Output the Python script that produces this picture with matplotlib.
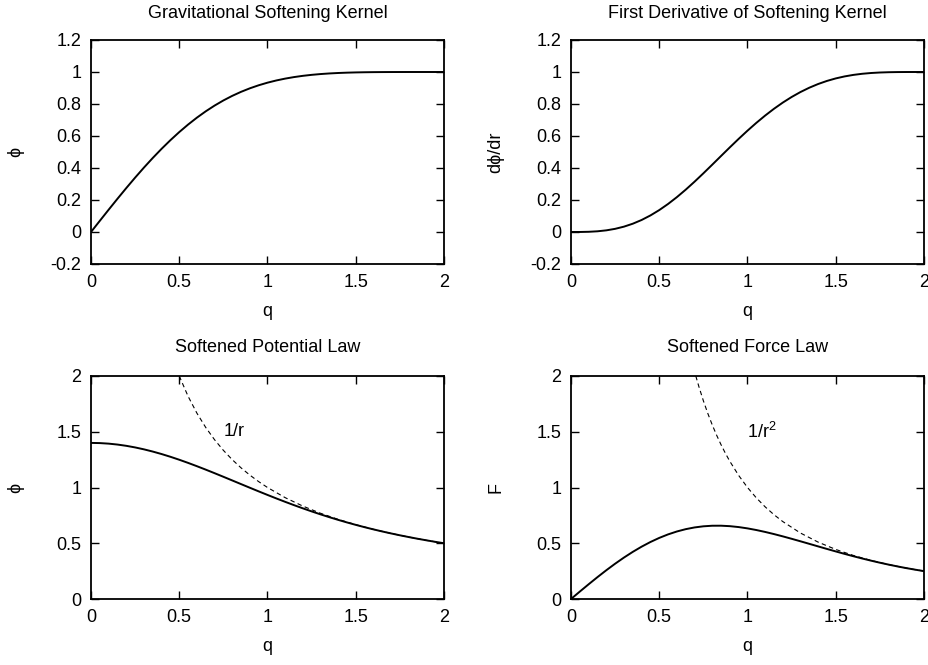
import matplotlib
matplotlib.use("Agg")
import matplotlib.pyplot as plt

plt.rcParams['font.family'] = ['Liberation Sans', 'DejaVu Sans']
plt.rcParams['mathtext.default'] = 'regular'

# ---- data ----
q = [0.00, 0.05, 0.10, 0.15, 0.20, 0.25, 0.30, 0.35, 0.40, 0.45,
     0.50, 0.55, 0.60, 0.65, 0.70, 0.75, 0.80, 0.85, 0.90, 0.95,
     1.00, 1.05, 1.10, 1.15, 1.20, 1.25, 1.30, 1.35, 1.40, 1.45,
     1.50, 1.55, 1.60, 1.65, 1.70, 1.75, 1.80, 1.85, 1.90, 1.95, 2.00]

kernel_phi = [0.0, 0.069917, 0.139336, 0.207772, 0.274756, 0.339852, 0.402656,
              0.462809, 0.519996, 0.573956, 0.624479, 0.671414, 0.714662,
              0.754183, 0.789989, 0.822143, 0.850756, 0.875980, 0.898003,
              0.917042, 0.933333, 0.947125, 0.958666, 0.968201, 0.975970,
              0.982202, 0.987115, 0.990911, 0.993779, 0.995890, 0.997396,
              0.998432, 0.999112, 0.999536, 0.999781, 0.999911, 0.999970,
              0.999993, 0.999999, 1.0, 1.0]

kernel_dphi = [0.0, 0.000167, 0.001322, 0.004415, 0.010315, 0.019784, 0.033449,
               0.051783, 0.075093, 0.103509, 0.136979, 0.175280, 0.218016,
               0.264641, 0.314474, 0.366724, 0.420523, 0.474962, 0.529133,
               0.582176, 0.633333, 0.682003, 0.727718, 0.770100, 0.808853,
               0.843774, 0.874748, 0.901747, 0.924832, 0.944143, 0.959896,
               0.972372, 0.981909, 0.988889, 0.993722, 0.996834, 0.998645,
               0.999553, 0.999908, 0.999994, 1.0]

potential = [1.4, 1.398335, 1.393363, 1.385144, 1.373781, 1.359408, 1.342187,
             1.322310, 1.299989, 1.275457, 1.248958, 1.220752, 1.191104,
             1.160282, 1.128556, 1.096191, 1.063445, 1.030565, 0.997781,
             0.965307, 0.933333, 0.902024, 0.871514, 0.841914, 0.813308,
             0.785762, 0.759319, 0.734008, 0.709842, 0.686821, 0.664931,
             0.644149, 0.624445, 0.605779, 0.588107, 0.571378, 0.555539,
             0.540537, 0.526315, 0.512821, 0.5]

force = [0.0, 0.066654, 0.13218, 0.19620, 0.25787, 0.31654, 0.37165, 0.42272,
         0.46933, 0.51115, 0.54792, 0.57944, 0.60560, 0.62637, 0.64178,
         0.65195, 0.65707, 0.65739, 0.65325, 0.64507, 0.63333, 0.61860,
         0.60142, 0.58231, 0.56170, 0.54002, 0.51760, 0.49479, 0.47185,
         0.44906, 0.42662, 0.40473, 0.38356, 0.36323, 0.34385, 0.32550,
         0.30822, 0.29205, 0.27698, 0.26298, 0.25]

q_inv = [0.5, 0.55, 0.6, 0.65, 0.7, 0.75, 0.8, 0.85, 0.9, 0.95, 1.0,
         1.1, 1.2, 1.3, 1.4, 1.5, 1.6, 1.7, 1.8, 1.9, 2.0]
inv_r = [2.0, 1.81818, 1.66667, 1.53846, 1.42857, 1.33333, 1.25, 1.17647,
         1.11111, 1.05263, 1.0, 0.90909, 0.83333, 0.76923, 0.71429, 0.66667,
         0.625, 0.58824, 0.55556, 0.52632, 0.5]

q_inv2 = [0.7071, 0.725, 0.75, 0.775, 0.8, 0.825, 0.85, 0.875, 0.9, 0.95,
          1.0, 1.05, 1.1, 1.15, 1.2, 1.3, 1.4, 1.5, 1.6, 1.7, 1.8, 1.9, 2.0]
inv_r2 = [2.0, 1.90250, 1.77778, 1.66493, 1.5625, 1.46924, 1.38408, 1.30612,
          1.23457, 1.10803, 1.0, 0.90703, 0.82645, 0.75614, 0.69444, 0.59172,
          0.51020, 0.44444, 0.39063, 0.34602, 0.30864, 0.27701, 0.25]

titles = ["Gravitational Softening Kernel", "First Derivative of Softening Kernel",
          "Softened Potential Law", "Softened Force Law"]
ylabels = ["\u03d5", "d\u03d5/dr", "\u03d5", "F"]
xticks = [0, 0.5, 1, 1.5, 2]
xticklabels = ["0", "0.5", "1", "1.5", "2"]
yticks_top = [-0.2, 0, 0.2, 0.4, 0.6, 0.8, 1.0, 1.2]
yticklabels_top = ["-0.2", "0", "0.2", "0.4", "0.6", "0.8", "1", "1.2"]
yticks_bot = [0, 0.5, 1, 1.5, 2]
yticklabels_bot = ["0", "0.5", "1", "1.5", "2"]

W, H = 929, 665
fig = plt.figure(figsize=(W / 100, H / 100), dpi=100)

FS = 13
boxes = [(91, 40, 444, 264), (571, 40, 924, 264),
         (91, 376, 444, 599), (571, 376, 924, 599)]
axes = []
for (x0, y0, x1, y1) in boxes:
    ax = fig.add_axes([x0 / W, 1 - y1 / H, (x1 - x0) / W, (y1 - y0) / H])
    axes.append(ax)

for i, ax in enumerate(axes):
    ax.set_xlim(0, 2)
    ax.set_xticks(xticks)
    ax.set_xticklabels(xticklabels)
    if i < 2:
        ax.set_ylim(-0.2, 1.2)
        ax.set_yticks(yticks_top)
        ax.set_yticklabels(yticklabels_top)
    else:
        ax.set_ylim(0, 2)
        ax.set_yticks(yticks_bot)
        ax.set_yticklabels(yticklabels_bot)
    ax.tick_params(direction='in', length=6, width=1.0, top=True, right=True,
                   labelsize=FS, pad=7, color='black')
    for s in ax.spines.values():
        s.set_linewidth(1.3)
    ax.set_xlabel("q", fontsize=FS)
    ax.xaxis.set_label_coords(0.5, -0.214)
    ax.xaxis.label.set_va('center')
    ax.set_ylabel(ylabels[i], fontsize=FS)
    ax.yaxis.set_label_coords(-0.213, 0.5)
    ax.yaxis.label.set_va('center')
    ty = 1 + 27 / 224 if i < 2 else 1 + 28 / 223
    ax.text(0.5, ty, titles[i], transform=ax.transAxes, ha='center',
            va='center', fontsize=FS)

axes[0].plot(q, kernel_phi, color='black', lw=1.4)
axes[1].plot(q, kernel_dphi, color='black', lw=1.4)
axes[2].plot(q, potential, color='black', lw=1.4)
axes[2].plot(q_inv, inv_r, color='black', lw=0.8, ls=(0, (4, 3)))
axes[2].text(0.75, 1.5, "1/r", fontsize=FS, ha='left', va='center')
axes[3].plot(q, force, color='black', lw=1.4)
axes[3].plot(q_inv2, inv_r2, color='black', lw=0.8, ls=(0, (4, 3)))
axes[3].text(1.0, 1.5, "1/r$^{2}$", fontsize=FS, ha='left', va='center')

fig.savefig("out.png", dpi=100)
